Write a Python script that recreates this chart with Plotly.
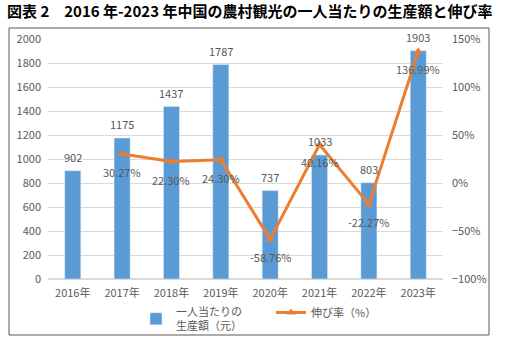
import plotly.graph_objects as go

years = ["2016年", "2017年", "2018年", "2019年", "2020年", "2021年", "2022年", "2023年"]
output = [902, 1175, 1437, 1787, 737, 1033, 803, 1903]
growth = [None, 30.27, 22.30, 24.30, -58.76, 40.16, -22.27, 136.99]
growth_labels = ["", "30.27%", "22.30%", "24.30%", "-58.76%", "40.16%", "-22.27%", "136.99%"]

FONT = "Noto Sans CJK JP"
GRAY = "#595959"
BLUE = "#5B9BD5"
ORANGE = "#ED7D31"

W, H = 506, 342
ML, MR, MT, MB = 48, 63, 39, 63
PW, PH = W - ML - MR, H - MT - MB

fig = go.Figure()
fig.add_trace(go.Bar(
    x=years, y=output, name="一人当たりの<br>生産額（元）",
    marker=dict(color=BLUE), yaxis="y",
))
fig.add_trace(go.Scatter(
    x=years, y=growth, name="伸び率（%）", yaxis="y2",
    mode="lines+markers",
    line=dict(color=ORANGE, width=3),
    marker=dict(symbol="triangle-up", size=8, color=ORANGE),
    connectgaps=False,
))

annotations = []
for xv, yv in zip(years, output):
    annotations.append(dict(x=xv, y=yv, xref="x", yref="y", text=str(yv),
                            showarrow=False, yshift=14,
                            font=dict(family=FONT, size=11, color=GRAY)))
for xv, yv, lab in zip(years, growth, growth_labels):
    if yv is None:
        continue
    annotations.append(dict(x=xv, y=yv, xref="x", yref="y2", text=lab,
                            showarrow=False, yshift=-18,
                            font=dict(family=FONT, size=11, color=GRAY)))

def px_x(p):
    return (p - ML) / PW

def px_y(p):
    return (H - MB - p) / PH

fig.update_layout(
    width=W, height=H,
    margin=dict(l=ML, r=MR, t=MT, b=MB, autoexpand=False),
    paper_bgcolor="white", plot_bgcolor="white",
    font=dict(family=FONT, size=11, color=GRAY),
    title=dict(text="<b>図表 2　2016 年-2023 年中国の農村観光の一人当たりの生産額と伸び率</b>",
               x=7 / W, xanchor="left", xref="container",
               y=1 - 12 / H, yanchor="middle", yref="container",
               font=dict(family=FONT, size=15, color="#000000")),
    bargap=0.675,
    showlegend=True,
    legend=dict(orientation="h", x=136 / W, xanchor="left", xref="container",
                y=1 - 319 / H, yanchor="middle", yref="container",
                entrywidth=90, entrywidthmode="pixels",
                font=dict(family=FONT, size=11, color=GRAY), bgcolor="rgba(0,0,0,0)"),
    xaxis=dict(showgrid=False, showline=False, zeroline=False, ticks="",
               ticklabelstandoff=6, tickfont=dict(family=FONT, size=11, color=GRAY)),
    yaxis=dict(range=[0, 2000], dtick=200, showgrid=True, gridcolor="#D9D9D9",
               gridwidth=1, zeroline=True, zerolinecolor="#D9D9D9", showline=False,
               ticks="", ticklabelstandoff=6,
               tickfont=dict(family=FONT, size=11, color=GRAY)),
    yaxis2=dict(range=[-100, 150], dtick=50, overlaying="y", side="right",
                ticksuffix="%", showgrid=False, zeroline=False, showline=False,
                ticks="", ticklabelstandoff=8,
                tickfont=dict(family=FONT, size=11, color=GRAY)),
    annotations=annotations,
    shapes=[dict(type="rect", xref="paper", yref="paper",
                 x0=px_x(9), x1=px_x(489), y0=px_y(335), y1=px_y(28),
                 line=dict(color="#595959", width=1), fillcolor="rgba(0,0,0,0)",
                 layer="below")],
)

fig.write_html("out.html")
